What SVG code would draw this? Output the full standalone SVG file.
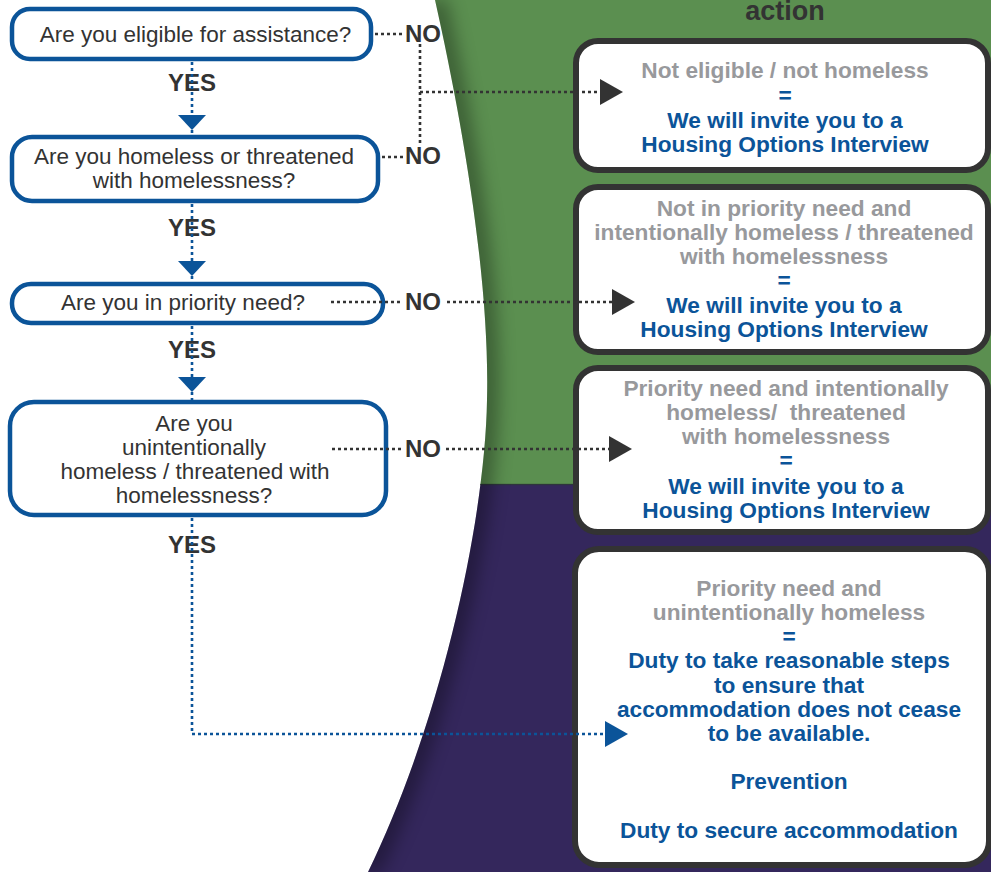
<svg xmlns="http://www.w3.org/2000/svg" width="991" height="872" viewBox="0 0 991 872">
  <defs>
    <style>
      .q { fill: #ffffff; stroke: #0b5499; stroke-width: 4.5; }
      .r { fill: #ffffff; stroke: #333333; stroke-width: 6; }
      .qt { font-family: "Liberation Sans", Arial, sans-serif; font-size: 22.5px; fill: #333333; text-anchor: middle; }
      .lab { font-family: "Liberation Sans", Arial, sans-serif; font-size: 24px; font-weight: bold; fill: #333333; text-anchor: middle; }
      .head { font-family: "Liberation Sans", Arial, sans-serif; font-size: 27px; font-weight: bold; fill: #333333; text-anchor: middle; }
      .g { font-family: "Liberation Sans", Arial, sans-serif; font-size: 22.7px; font-weight: bold; fill: #98999c; text-anchor: middle; }
      .b { font-family: "Liberation Sans", Arial, sans-serif; font-size: 22.7px; font-weight: bold; fill: #0b5499; text-anchor: middle; }
      .dk { fill: none; stroke: #333333; stroke-width: 2.6; stroke-dasharray: 3 3; }
      .bl { fill: none; stroke: #0b5499; stroke-width: 2.6; stroke-dasharray: 3 3; }
      .ahd { fill: #333333; }
      .ahb { fill: #0b5499; }
    </style>
    <clipPath id="region">
      <path d="M435,0 C462,120 490,280 487,400 C485,520 442,720 368,872 L991,872 L991,0 Z"/>
    </clipPath>
    <filter id="blur" x="-50%" y="-10%" width="200%" height="120%">
      <feGaussianBlur stdDeviation="9"/>
    </filter>
  </defs>

  <rect x="0" y="0" width="991" height="872" fill="#ffffff"/>

  <g id="background" clip-path="url(#region)">
    <rect x="0" y="0" width="991" height="485" fill="#5b8f50"/>
    <rect x="0" y="484" width="991" height="388" fill="#34275c"/>
    <line x1="430" y1="484.5" x2="991" y2="484.5" stroke="#2b3f2a" stroke-width="1.5" opacity="0.6"/>
    <path d="M435,0 C462,120 490,280 487,400 C485,520 442,720 368,872" fill="none" stroke="#000000" stroke-width="22" opacity="0.35" filter="url(#blur)"/>
  </g>

  <text id="heading" class="head" x="785" y="20">action</text>

  <g id="q1">
    <rect class="q" x="12" y="9" width="359" height="50" rx="18"/>
    <text class="qt" x="195.5" y="42">Are you eligible for assistance?</text>
  </g>
  <g id="q2">
    <rect class="q" x="12" y="137" width="366" height="64" rx="20"/>
    <text class="qt" x="194" y="164">Are you homeless or threatened</text>
    <text class="qt" x="194" y="188">with homelessness?</text>
  </g>
  <g id="q3">
    <rect class="q" x="12" y="284" width="371" height="39" rx="19"/>
    <text class="qt" x="183" y="310">Are you in priority need?</text>
  </g>
  <g id="q4">
    <rect class="q" x="10" y="402" width="376" height="113" rx="24"/>
    <text class="qt" x="194" y="431">Are you</text>
    <text class="qt" x="194" y="455">unintentionally</text>
    <text class="qt" x="195" y="479">homeless / threatened with</text>
    <text class="qt" x="194" y="503">homelessness?</text>
  </g>

  <g id="o1">
    <rect class="r" x="576" y="41" width="412" height="129" rx="22"/>
    <text class="g" x="785" y="78">Not eligible / not homeless</text>
    <text class="b" x="785" y="103">=</text>
    <text class="b" x="785" y="128">We will invite you to a</text>
    <text class="b" x="785" y="152">Housing Options Interview</text>
  </g>
  <g id="o2">
    <rect class="r" x="576" y="187" width="412" height="165" rx="22"/>
    <text class="g" x="784" y="216">Not in priority need and</text>
    <text class="g" x="784" y="240">intentionally homeless / threatened</text>
    <text class="g" x="784" y="264">with homelessness</text>
    <text class="b" x="784" y="288">=</text>
    <text class="b" x="784" y="313">We will invite you to a</text>
    <text class="b" x="784" y="337">Housing Options Interview</text>
  </g>
  <g id="o3">
    <rect class="r" x="576" y="368" width="412" height="164" rx="22"/>
    <text class="g" x="786" y="396">Priority need and intentionally</text>
    <text class="g" x="786" y="420" xml:space="preserve">homeless/  threatened</text>
    <text class="g" x="786" y="444">with homelessness</text>
    <text class="b" x="786" y="468">=</text>
    <text class="b" x="786" y="494">We will invite you to a</text>
    <text class="b" x="786" y="518">Housing Options Interview</text>
  </g>
  <g id="o4">
    <rect class="r" x="575" y="549" width="414" height="316" rx="24"/>
    <text class="g" x="789" y="596">Priority need and</text>
    <text class="g" x="789" y="620">unintentionally homeless</text>
    <text class="b" x="789" y="644">=</text>
    <text class="b" x="789" y="668">Duty to take reasonable steps</text>
    <text class="b" x="789" y="693">to ensure that</text>
    <text class="b" x="789" y="717">accommodation does not cease</text>
    <text class="b" x="789" y="741">to be available.</text>
    <text class="b" x="789" y="789">Prevention</text>
    <text class="b" x="789" y="838">Duty to secure accommodation</text>
  </g>

  <g id="labels">
    <text class="lab" x="192" y="91">YES</text>
    <text class="lab" x="192" y="236">YES</text>
    <text class="lab" x="192" y="358">YES</text>
    <text class="lab" x="192" y="553">YES</text>
    <text class="lab" x="423" y="42">NO</text>
    <text class="lab" x="423" y="164">NO</text>
    <text class="lab" x="423" y="310">NO</text>
    <text class="lab" x="423" y="457">NO</text>
  </g>

  <g id="connectors">
    <path class="bl" d="M192,62 V116"/>
    <polygon class="ahb" points="178,115 206,115 192,130"/>
    <path class="bl" d="M192,130 V135"/>
    <path class="bl" d="M192,204 V262"/>
    <polygon class="ahb" points="178,261 206,261 192,276"/>
    <path class="bl" d="M192,276 V282"/>
    <path class="bl" d="M192,326 V378"/>
    <polygon class="ahb" points="178,377 206,377 192,392"/>
    <path class="bl" d="M192,392 V400"/>
    <path class="bl" d="M192,518 V734 H606"/>
    <polygon class="ahb" points="605,721 605,747 628,734"/>
    <path class="dk" d="M375,34 H403"/>
    <path class="dk" d="M382,157 H403"/>
    <path class="dk" d="M420,44 V145"/>
    <path class="dk" d="M420,92 H601"/>
    <polygon class="ahd" points="600,79 600,105 623,92"/>
    <path class="dk" d="M331,302 H401"/>
    <path class="dk" d="M447,302 H613"/>
    <polygon class="ahd" points="612,289 612,315 635,302"/>
    <path class="dk" d="M332,449 H401"/>
    <path class="dk" d="M446,449 H610"/>
    <polygon class="ahd" points="609,436 609,462 632,449"/>
  </g>
</svg>
